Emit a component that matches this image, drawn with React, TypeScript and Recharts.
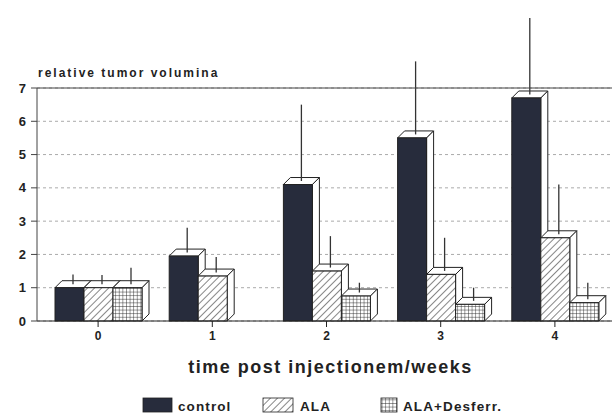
import React from 'react';
import { BarChart, Bar, XAxis, YAxis, CartesianGrid, ReferenceLine } from 'recharts';

const weeks = ['0', '1', '2', '3', '4'];
const controlValues = [1.0, 1.95, 4.1, 5.5, 6.7];
const controlErr = [0.4, 0.85, 2.4, 2.3, 2.4];
const alaValues = [1.0, 1.35, 1.5, 1.4, 2.5];
const alaErr = [0.38, 0.57, 1.05, 1.1, 1.6];
const desferrValues = [1.0, null, 0.75, 0.5, 0.55];
const desferrErr = [0.6, null, 0.4, 0.5, 0.6];
const yTicks = [0, 1, 2, 3, 4, 5, 6, 7];

const seriesNames = ['control', 'ALA', 'ALA+Desferr.'];
const seriesFills = ['#272c3c', 'url(#hatchAla)', 'url(#gridDesferr)'];

const chartData = weeks.map((w, i) => ({
  week: w,
  control: controlValues[i],
  controlErr: controlErr[i],
  ala: alaValues[i],
  alaErr: alaErr[i],
  desferr: desferrValues[i],
  desferrErr: desferrErr[i],
}));

const DX = 7;
const DY = 7;
const FONT = '"Liberation Sans", Arial, sans-serif';

// front face + top + side, then the error line from the top face
function Bar3D(props: any) {
  const { x, y, width, height, payload, fill, valKey, errKey } = props;
  const val = payload ? payload[valKey] : null;
  if (val == null || !height || height <= 0) return <g />;
  const ppu = height / val;
  const err = payload[errKey] || 0;
  const cx = x + width / 2 + DX / 2;
  const errTop = y - err * ppu;
  return (
    <g>
      <polygon
        points={`${x},${y} ${x + DX},${y - DY} ${x + width + DX},${y - DY} ${x + width},${y}`}
        fill="#fff"
        stroke="#222"
        strokeWidth={1}
      />
      <polygon
        points={`${x + width},${y} ${x + width + DX},${y - DY} ${x + width + DX},${y + height - DY} ${x + width},${y + height}`}
        fill="#fff"
        stroke="#222"
        strokeWidth={1}
      />
      <rect x={x} y={y} width={width} height={height} fill={fill} stroke="#222" strokeWidth={1} />
      <line x1={cx} y1={y - DY / 2} x2={cx} y2={errTop} stroke="#333" strokeWidth={1.3} />
    </g>
  );
}

function Patterns() {
  return (
    <svg width={0} height={0} style={{ position: 'absolute' }}>
      <defs>
        <pattern id="hatchAla" width={5} height={5} patternUnits="userSpaceOnUse" patternTransform="rotate(45)">
          <rect width={5} height={5} fill="#fff" />
          <line x1={0} y1={0} x2={0} y2={5} stroke="#222" strokeWidth={1.1} />
        </pattern>
        <pattern id="gridDesferr" width={3.6} height={3.6} patternUnits="userSpaceOnUse">
          <rect width={3.6} height={3.6} fill="#fff" />
          <line x1={0} y1={0} x2={0} y2={3.6} stroke="#222" strokeWidth={0.9} />
          <line x1={0} y1={0} x2={3.6} y2={0} stroke="#222" strokeWidth={0.9} />
        </pattern>
      </defs>
    </svg>
  );
}

function LegendRow() {
  const items = [
    { swatch: 143, sw: 29, text: 178 },
    { swatch: 263, sw: 30, text: 300 },
    { swatch: 381, sw: 16, text: 403 },
  ];
  return (
    <svg width={612} height={30} style={{ position: 'absolute', left: 0, top: 385 }}>
      {items.map((it, i) => (
        <g key={seriesNames[i]}>
          <rect x={it.swatch} y={13} width={it.sw} height={14} fill={seriesFills[i]} stroke="#222" strokeWidth={0.8} />
          <text x={it.text} y={26} fontFamily={FONT} fontWeight="bold" fontSize={13.5} letterSpacing={1.1} fill="#222">
            {seriesNames[i]}
          </text>
        </g>
      ))}
    </svg>
  );
}

export default function App() {
  return (
    <div style={{ position: 'absolute', left: 0, top: 0, width: 612, height: 415, background: '#fff', overflow: 'hidden' }}>
      <Patterns />
      <div style={{ position: 'absolute', left: 38, top: 66, fontFamily: FONT, fontWeight: 'bold', fontSize: 12, letterSpacing: 2, color: '#222' }}>
        relative tumor volumina
      </div>
      <BarChart
        width={612}
        height={415}
        data={chartData}
        margin={{ top: 88, right: 0, left: 0, bottom: 34 }}
        barGap={0}
        barSize={29}
        style={{ overflow: 'visible' }}
      >
        <CartesianGrid vertical={false} stroke="#aaa" strokeDasharray="3 3" />
        <XAxis
          dataKey="week"
          height={60}
          padding={{ left: 4, right: 0 }}
          stroke="#222"
          tickSize={6}
          tickMargin={4}
          tick={{ fill: '#222', fontSize: 12, fontWeight: 'bold', fontFamily: FONT }}
          label={{
            value: 'time post injectionem/weeks',
            position: 'insideBottom',
            offset: 8,
            dx: 6,
            style: { fontSize: 18, fontWeight: 'bold', fontFamily: FONT, letterSpacing: 1.5, fill: '#222' },
          }}
        />
        <YAxis
          width={37}
          domain={[0, 7]}
          ticks={yTicks}
          interval={0}
          stroke="#444"
          tickSize={6}
          tickMargin={5}
          tick={{ fill: '#222', fontSize: 13, fontWeight: 'bold', fontFamily: FONT }}
        />
        <ReferenceLine y={7} stroke="#444" strokeWidth={1} />
        <Bar
          dataKey="control"
          fill={seriesFills[0]}
          isAnimationActive={false}
          shape={(p: any) => <Bar3D {...p} valKey="control" errKey="controlErr" />}
        />
        <Bar
          dataKey="ala"
          fill={seriesFills[1]}
          isAnimationActive={false}
          shape={(p: any) => <Bar3D {...p} valKey="ala" errKey="alaErr" />}
        />
        <Bar
          dataKey="desferr"
          fill={seriesFills[2]}
          isAnimationActive={false}
          shape={(p: any) => <Bar3D {...p} valKey="desferr" errKey="desferrErr" />}
        />
      </BarChart>
      <LegendRow />
    </div>
  );
}
